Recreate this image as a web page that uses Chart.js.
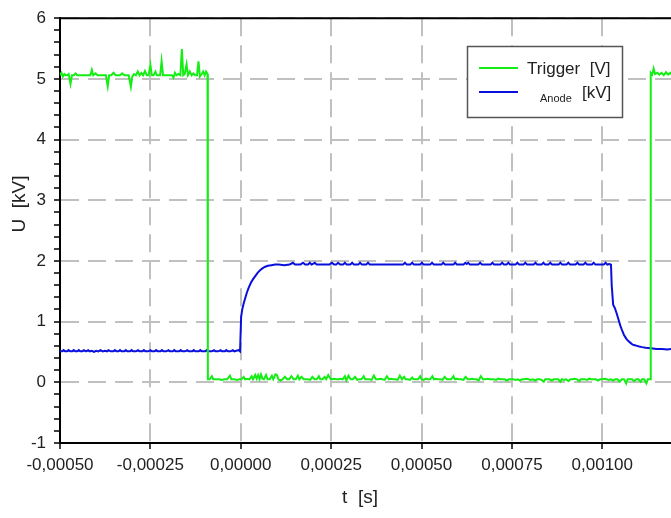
<!DOCTYPE html>
<html>
<head>
<meta charset="utf-8">
<script src="https://cdn.jsdelivr.net/npm/chart.js@4.4.1/dist/chart.umd.min.js"></script>
<style>
  html, body { margin: 0; padding: 0; background: #fff; }
  canvas { display: block; }
</style>
</head>
<body>
<canvas id="scope" width="671" height="518"></canvas>
<script>
// trigger channel, time in microseconds, voltage in V
const trigT = [
  -500,-496,-492,-488,-484,-480,-476,-471,-467,-462,
  -457,-452,-446,-440,-434,-428,-422,-416,-412,-408,
  -402,-396,-390,-384,-378,-373,-368,-364,-358,-352,
  -346,-340,-334,-328,-322,-316,-310,-304,-300,-295,
  -290,-285,-280,-275,-270,-265,-260,-255,-250,-246,
  -241,-236,-232,-227,-223,-219,-215,-210,-205,-200,
  -195,-190,-186,-182,-178,-172,-167,-163,-159,-155,
  -150,-146,-141,-136,-131,-126,-121,-117,-113,-108,
  -104,-100,-96,-92,-91,-86,-80,-76,-68,-60,
  -52,-45,-38,-30,-26,-18,-10,-4,2,8,
  12,18,24,30,34,40,44,48,52,56,
  60,64,70,74,80,86,90,96,100,104,
  110,116,122,128,134,140,146,152,158,162,
  168,174,180,186,192,198,204,210,216,220,
  226,232,236,242,248,252,258,264,270,276,
  282,288,292,298,304,310,316,322,328,334,
  340,344,350,356,362,368,374,380,386,392,
  398,404,410,416,422,428,434,440,446,452,
  456,462,468,474,478,484,490,496,500,506,
  512,518,524,530,534,540,546,552,558,564,
  570,576,582,588,592,598,604,610,616,622,
  628,634,640,646,652,658,664,670,676,682,
  688,694,700,706,712,718,724,730,736,742,
  748,754,760,766,772,778,784,790,796,802,
  808,814,820,826,832,838,842,848,854,860,
  866,872,878,884,888,894,900,906,912,918,
  924,930,936,940,946,952,958,964,970,976,
  982,988,994,1000,1006,1012,1018,1024,1030,1036,
  1042,1048,1054,1060,1066,1070,1076,1082,1088,1094,
  1100,1106,1110,1116,1122,1126,1132,1134,1138,1142,
  1146,1152,1158,1164,1170,1176,1182,1188,1192
]
const trigU = [
  5.06,5.10,5.04,5.08,5.06,5.06,5.08,4.92,5.06,5.06,
  5.09,5.06,5.06,5.06,5.06,5.06,5.06,5.06,5.15,5.06,
  5.09,5.06,5.06,5.06,5.06,5.06,4.88,5.06,5.06,5.10,
  5.06,5.06,5.06,5.09,5.06,5.06,5.06,4.87,5.04,5.08,
  5.06,5.12,5.06,5.10,5.06,5.13,5.06,5.06,5.23,5.06,
  5.06,5.12,5.06,5.06,5.06,5.29,5.06,5.06,5.06,5.06,
  5.06,5.06,5.02,5.10,5.06,5.08,5.06,5.49,5.06,5.08,
  5.24,5.06,5.12,5.06,5.09,5.06,5.06,5.29,5.04,5.08,
  5.12,5.06,5.12,5.08,0.05,0.05,0.10,0.05,0.05,0.05,
  0.04,0.05,0.05,0.11,0.05,0.05,0.04,0.05,0.05,0.09,
  0.05,0.06,0.05,0.10,0.05,0.12,0.06,0.12,0.05,0.13,
  0.06,0.05,0.12,0.05,0.05,0.11,0.05,0.13,0.12,0.05,
  0.03,0.05,0.09,0.05,0.05,0.10,0.05,0.05,0.11,0.05,
  0.09,0.05,0.05,0.05,0.04,0.09,0.05,0.05,0.10,0.05,
  0.05,0.09,0.05,0.12,0.06,0.05,0.06,0.05,0.05,0.06,
  0.05,0.10,0.03,0.11,0.05,0.05,0.09,0.04,0.05,0.05,
  0.10,0.05,0.05,0.05,0.04,0.11,0.05,0.05,0.06,0.05,
  0.04,0.10,0.05,0.06,0.05,0.05,0.04,0.11,0.05,0.09,
  0.05,0.05,0.04,0.08,0.05,0.05,0.05,0.10,0.05,0.04,
  0.06,0.05,0.05,0.10,0.05,0.06,0.05,0.05,0.04,0.09,
  0.05,0.05,0.05,0.10,0.05,0.06,0.05,0.05,0.04,0.09,
  0.05,0.05,0.06,0.05,0.05,0.03,0.10,0.05,0.05,0.06,
  0.05,0.05,0.05,0.04,0.06,0.05,0.05,0.05,0.03,0.05,
  0.05,0.05,0.04,0.05,0.03,0.05,0.05,0.06,0.05,0.04,
  0.05,0.03,0.05,0.05,0.04,0.01,0.05,0.05,0.05,0.03,
  0.05,0.05,0.05,0.01,0.05,0.04,0.05,0.02,0.05,0.05,
  0.06,0.05,0.02,0.05,0.05,0.05,0.04,0.06,0.05,0.05,
  0.05,0.03,0.05,0.05,0.06,0.05,0.04,0.05,0.03,0.05,
  0.05,0.01,0.05,0.05,-0.02,0.05,0.05,0.05,0.02,0.05,
  0.05,0.01,0.05,0.05,-0.02,0.05,0.05,5.10,5.07,5.17,
  5.08,5.10,5.07,5.10,5.06,5.11,5.07,5.10,5.07
]

// anode channel, time in microseconds, voltage in kV
const anodeT = [
  -500,-494,-490,-486,-480,-476,-472,-466,-462,-458,
  -452,-448,-444,-438,-434,-428,-422,-418,-412,-406,
  -400,-394,-388,-382,-376,-370,-366,-360,-352,-348,
  -344,-338,-334,-330,-322,-318,-314,-306,-302,-298,
  -290,-284,-280,-272,-268,-264,-256,-250,-246,-238,
  -234,-230,-222,-218,-214,-206,-200,-196,-188,-184,
  -180,-170,-166,-162,-154,-148,-144,-134,-130,-126,
  -116,-112,-108,-98,-94,-90,-80,-74,-70,-62,
  -56,-52,-44,-40,-36,-28,-22,-18,-12,-6,
  -2,0,1,4,8,12,17,22,28,34,
  40,46,52,58,66,75,85,95,105,120,
  135,144,150,165,172,178,186,191,196,205,
  210,230,245,252,258,264,269,275,283,288,
  293,303,308,313,325,330,335,347,352,357,
  380,410,435,449,454,459,469,474,479,496,
  501,506,524,529,534,555,560,565,588,593,
  598,616,621,625,629,634,657,662,667,691,
  696,701,718,723,728,735,740,745,760,765,
  770,782,787,792,810,815,820,832,837,842,
  851,856,861,879,884,889,901,906,911,926,
  931,936,948,953,958,971,976,981,1004,1009,
  1014,1020,1024,1026,1030,1035,1040,1045,1050,1055,
  1060,1066,1072,1078,1084,1090,1096,1102,1110,1120,
  1134,1150,1165,1180,1192
]
const anodeU = [
  0.51,0.51,0.53,0.51,0.51,0.53,0.51,0.51,0.53,0.51,
  0.51,0.53,0.51,0.51,0.53,0.51,0.53,0.51,0.52,0.50,
  0.52,0.51,0.53,0.51,0.52,0.51,0.53,0.51,0.51,0.53,
  0.51,0.51,0.53,0.51,0.51,0.53,0.51,0.51,0.53,0.51,
  0.51,0.53,0.51,0.51,0.53,0.51,0.51,0.53,0.51,0.51,
  0.53,0.51,0.51,0.53,0.51,0.51,0.53,0.51,0.51,0.53,
  0.51,0.51,0.53,0.51,0.51,0.53,0.51,0.51,0.53,0.51,
  0.51,0.53,0.51,0.51,0.53,0.51,0.51,0.53,0.51,0.51,
  0.53,0.51,0.51,0.53,0.51,0.51,0.53,0.51,0.52,0.53,
  0.51,0.51,1.08,1.20,1.30,1.38,1.48,1.56,1.64,1.70,
  1.75,1.80,1.84,1.87,1.90,1.92,1.93,1.94,1.94,1.93,
  1.94,1.97,1.94,1.94,1.97,1.94,1.94,1.97,1.94,1.97,
  1.94,1.94,1.94,1.97,1.94,1.94,1.97,1.94,1.94,1.97,
  1.94,1.94,1.97,1.94,1.94,1.97,1.94,1.94,1.97,1.94,
  1.94,1.94,1.94,1.94,1.97,1.94,1.94,1.97,1.94,1.94,
  1.97,1.94,1.94,1.97,1.94,1.94,1.97,1.94,1.94,1.97,
  1.94,1.94,1.97,1.95,1.97,1.94,1.94,1.97,1.94,1.94,
  1.97,1.94,1.94,1.97,1.94,1.94,1.97,1.94,1.94,1.97,
  1.94,1.94,1.97,1.94,1.94,1.97,1.94,1.94,1.97,1.94,
  1.94,1.97,1.94,1.94,1.97,1.94,1.94,1.97,1.94,1.94,
  1.97,1.94,1.94,1.97,1.94,1.94,1.97,1.94,1.94,1.97,
  1.94,1.95,1.94,1.60,1.28,1.22,1.13,1.03,0.93,0.85,
  0.78,0.72,0.68,0.65,0.62,0.61,0.60,0.59,0.58,0.57,
  0.56,0.55,0.55,0.54,0.55
]

const xTicks = [-0.0005, -0.00025, 0, 0.00025, 0.0005, 0.00075, 0.001]
const yLabels = [-1, 0, 1, 2, 3, 4, 5, 6]

const FONT = '"Liberation Sans", Arial, sans-serif'
const GREEN = '#14ee14'
const BLUE = '#0a10dc'

function points(ts, us){
    return ts.map((t, i) => ({ x: t * 1e-6, y: us[i] }))
}

function isLabelled(v){
    return yLabels.some(l => Math.abs(l - v) < 1e-6)
}

// top frame line, axis titles and the boxed legend
const decor = {
    id: 'decor',
    afterDraw(chart){
        const ctx = chart.ctx
        const a = chart.chartArea

        ctx.save()
        ctx.strokeStyle = '#000'
        ctx.lineWidth = 2
        ctx.beginPath()
        ctx.moveTo(a.left, a.top)
        ctx.lineTo(a.right, a.top)
        ctx.stroke()

        ctx.fillStyle = '#222'
        ctx.font = '19px ' + FONT
        ctx.textAlign = 'center'
        ctx.textBaseline = 'middle'
        ctx.fillText('t  [s]', 360, 498)
        ctx.translate(20, 204)
        ctx.rotate(-Math.PI / 2)
        ctx.fillText('U  [kV]', 0, 0)
        ctx.restore()

        ctx.save()
        ctx.fillStyle = '#fff'
        ctx.fillRect(467, 46, 156, 72)
        ctx.strokeStyle = '#555'
        ctx.lineWidth = 1.5
        ctx.strokeRect(467.5, 46.5, 155, 71)

        ctx.lineWidth = 2
        ctx.strokeStyle = GREEN
        ctx.beginPath()
        ctx.moveTo(479, 68)
        ctx.lineTo(518, 68)
        ctx.stroke()
        ctx.strokeStyle = BLUE
        ctx.beginPath()
        ctx.moveTo(479, 92)
        ctx.lineTo(518, 92)
        ctx.stroke()

        ctx.fillStyle = '#222'
        ctx.textBaseline = 'alphabetic'
        ctx.textAlign = 'left'
        ctx.font = '17px ' + FONT
        ctx.fillText('Trigger  [V]', 527, 74)
        ctx.fillText('[kV]', 582, 98)
        ctx.font = '11px ' + FONT
        ctx.fillText('Anode', 540, 102)
        ctx.restore()
    }
}

Chart.defaults.font.family = FONT
Chart.defaults.color = '#222'

new Chart(document.getElementById('scope'), {
    type: 'line',
    data: {
        datasets: [
            {
                label: 'Trigger [V]',
                data: points(trigT, trigU),
                borderColor: GREEN,
                borderWidth: 2,
                pointRadius: 0,
                tension: 0
            },
            {
                label: 'Anode [kV]',
                data: points(anodeT, anodeU),
                borderColor: BLUE,
                borderWidth: 2,
                pointRadius: 0,
                tension: 0
            }
        ]
    },
    options: {
        responsive: false,
        animation: false,
        devicePixelRatio: 1,
        layout: { padding: { top: 13, right: 0, left: 0, bottom: 0 } },
        plugins: {
            legend: { display: false },
            tooltip: { enabled: false }
        },
        scales: {
            x: {
                type: 'linear',
                min: -0.0005,
                max: 0.00119,
                afterBuildTicks: s => { s.ticks = xTicks.map(v => ({ value: v })) },
                afterFit: s => { s.height = 75 },
                grid: {
                    color: '#c0c0c0',
                    lineWidth: 2,
                    tickColor: '#000',
                    tickWidth: 1.5,
                    tickLength: 6
                },
                border: { color: '#000', width: 2, dash: [18, 9] },
                ticks: {
                    font: { size: 17 },
                    padding: 6,
                    maxRotation: 0,
                    autoSkip: false,
                    callback: v => v.toFixed(5).replace('.', ',')
                }
            },
            y: {
                min: -1,
                max: 6,
                afterFit: s => { s.width = 60 },
                grid: {
                    color: c => isLabelled(c.tick.value) ? '#c0c0c0' : 'rgba(0,0,0,0)',
                    lineWidth: 2,
                    tickColor: '#000',
                    tickWidth: 1.5,
                    tickLength: 6
                },
                border: { color: '#000', width: 2, dash: [18, 9] },
                ticks: {
                    stepSize: 0.2,
                    autoSkip: false,
                    font: { size: 17 },
                    padding: 8,
                    callback: v => isLabelled(v) ? String(Math.round(v)) : ''
                }
            }
        }
    },
    plugins: [decor]
})
</script>
</body>
</html>
